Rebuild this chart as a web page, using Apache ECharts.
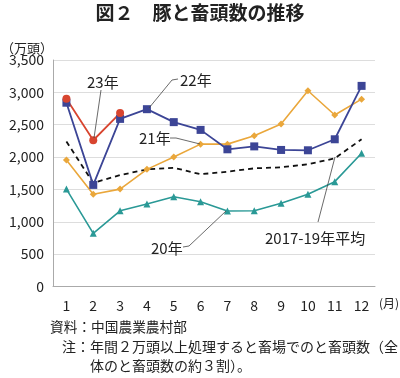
<!DOCTYPE html>
<html><head><meta charset="utf-8">
<script src="https://cdn.jsdelivr.net/npm/echarts@6/dist/echarts.min.js"></script>
<style>html,body{margin:0;padding:0;background:#fff}#c{width:400px;height:378px}</style>
</head><body><div id="c"></div>
<script>
const months = ['1','2','3','4','5','6','7','8','9','10','11','12'];
const yTicks = [0, 500, 1000, 1500, 2000, 2500, 3000, 3500];
const s23 = [2900, 2260, 2680];
const s22 = [2840, 1570, 2590, 2740, 2540, 2420, 2120, 2165, 2110, 2105, 2275, 3100];
const s21 = [1955, 1425, 1505, 1810, 2000, 2200, 2200, 2330, 2510, 3025, 2650, 2895];
const s20 = [1505, 822, 1170, 1275, 1388, 1310, 1166, 1171, 1285, 1424, 1620, 2058];
const sAvg = [2240, 1600, 1722, 1810, 1835, 1735, 1774, 1826, 1842, 1888, 1980, 2275];

const F = '"Noto Sans CJK JP","Noto Sans",sans-serif';
const chart = echarts.init(document.getElementById('c'));
function line(x1,y1,x2,y2){return {type:'line',shape:{x1,y1,x2,y2},style:{stroke:'#444',lineWidth:0.8},z:100};}
function txt(x,y,t,size){return {type:'text',x,y,style:{text:t,font:(size||15)+'px '+F,fill:'#222',textVerticalAlign:'middle'},z:100};}
chart.setOption({
  animation:false,
  grid:{left:53,right:25,top:60,bottom:91.5},
  xAxis:{type:'category',data:months,boundaryGap:true,
    axisLine:{lineStyle:{color:'#aaa'}},axisTick:{show:false},
    axisLabel:{color:'#222',fontSize:14,fontFamily:F,margin:12}},
  yAxis:{type:'value',min:0,max:3500,interval:500,
    axisLine:{show:true,lineStyle:{color:'#aaa'}},
    splitLine:{lineStyle:{color:'#ddd'}},
    axisLabel:{color:'#222',fontSize:14,fontFamily:F,margin:9,
      formatter:v=>yTicks.includes(v)?v.toLocaleString('en-US'):''}},
  series:[
    {name:'2017-19年平均',type:'line',data:sAvg,symbol:'none',lineStyle:{color:'#111',width:1.8,type:[5,4]}},
    {name:'20年',type:'line',data:s20,symbol:'triangle',symbolSize:7,lineStyle:{color:'#2a9996',width:1.6},itemStyle:{color:'#2a9996'}},
    {name:'21年',type:'line',data:s21,symbol:'diamond',symbolSize:7,lineStyle:{color:'#eaa73b',width:1.6},itemStyle:{color:'#eaa73b'}},
    {name:'22年',type:'line',data:s22,symbol:'rect',symbolSize:8,lineStyle:{color:'#3c4596',width:1.8},itemStyle:{color:'#3c4596'}},
    {name:'23年',type:'line',data:s23,symbol:'circle',symbolSize:8,lineStyle:{color:'#d8452f',width:1.8},itemStyle:{color:'#d8452f'}}
  ],
  graphic:[
    {type:'text',left:'center',top:3,style:{text:'図２　豚と畜頭数の推移',font:'bold 19px '+F,fill:'#222'}},
    txt(1,48,'（万頭）',13),
    txt(379,303,'(月)',12),
    txt(87,82,'23年'), line(101,90,94,138),
    txt(180,80,'22年'), line(178,79,172,80), line(172,80,149,108),
    txt(139,138,'21年'), line(170,138,176,138), line(176,138,200,144),
    txt(151,248,'20年'), line(183,247,189,246), line(189,246,226,211),
    txt(265,238,'2017-19年平均'), line(318,222,335,157),
    txt(50,327,'資料：中国農業農村部',13.7),
    txt(62,347,'注：年間２万頭以上処理すると畜場でのと畜頭数（全',14),
    txt(90,366,'体のと畜頭数の約３割）。',14)
  ]
});
</script></body></html>
